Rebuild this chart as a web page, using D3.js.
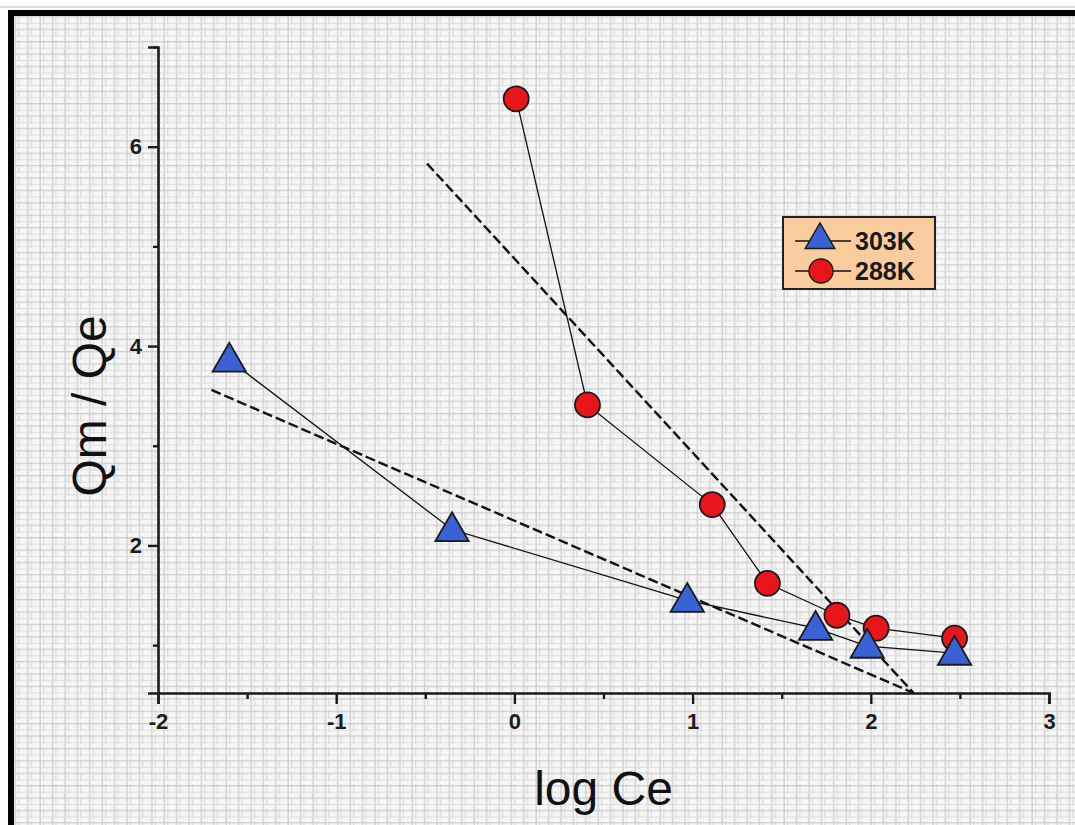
<!DOCTYPE html>
<html>
<head>
<meta charset="utf-8">
<script src="https://cdn.jsdelivr.net/npm/d3@7"></script>
<style>
  html, body { margin: 0; padding: 0; background: #fff; }
  svg { display: block; }
</style>
</head>
<body>
<script>
// Freundlich-type plot: Qm/Qe against log Ce at two temperatures
const logCe303 = [-1.60, -0.35, 0.97, 1.69, 1.98, 2.47];
const ratio303 = [3.86, 2.16, 1.45, 1.17, 0.99, 0.92];
const logCe288 = [0.01, 0.41, 1.11, 1.42, 1.81, 2.03, 2.47];
const ratio288 = [6.48, 3.41, 2.41, 1.62, 1.30, 1.17, 1.07];

// Linear fits (start/end of each dashed line)
const fit303X = [-1.70, 2.24];
const fit303Y = [3.56, 0.52];
const fit288X = [-0.49, 2.24];
const fit288Y = [5.83, 0.52];

const seriesNames = ["303K", "288K"];
const xTicks = [-2, -1, 0, 1, 2, 3];
const xMinorTicks = [-1.5, -0.5, 0.5, 1.5, 2.5];
const yTicks = [2, 4, 6];
const yMinorTicks = [1, 3, 5, 7];
const xTitle = "log Ce";
const yTitle = "Qm / Qe";

const W = 1075, H = 825;
const svg = d3.select("body").append("svg").attr("width", W).attr("height", H);

// graph-paper background
const defs = svg.append("defs");
const P = 12.4;
const pat = defs.append("pattern").attr("id", "paper")
  .attr("patternUnits", "userSpaceOnUse").attr("width", P).attr("height", P);
pat.append("rect").attr("width", P).attr("height", P).attr("fill", "#f6f6f6");
pat.append("line").attr("x1", 0).attr("x2", P).attr("y1", 4.5).attr("y2", 4.5)
  .attr("stroke", "#c9c9c9").attr("stroke-width", 1.1);
pat.append("line").attr("x1", 3).attr("x2", 3).attr("y1", 0).attr("y2", P)
  .attr("stroke", "#c4c4c4").attr("stroke-width", 1.0);
pat.append("line").attr("x1", 6.5).attr("x2", 6.5).attr("y1", 3).attr("y2", P)
  .attr("stroke", "#d0d0d0").attr("stroke-width", 0.9);
pat.append("line").attr("x1", 0).attr("x2", P).attr("y1", 11).attr("y2", 11)
  .attr("stroke", "#dadada").attr("stroke-width", 0.8);

svg.append("rect").attr("x", 0).attr("y", 0).attr("width", W).attr("height", H).attr("fill", "#fdfdfd");
svg.append("rect").attr("x", 13).attr("y", 15).attr("width", W - 13).attr("height", H - 15).attr("fill", "url(#paper)");
svg.append("line").attr("x1", 0).attr("x2", W).attr("y1", 7).attr("y2", 7).attr("stroke", "#bbb").attr("stroke-width", 1);
// frame bars
svg.append("rect").attr("x", 8).attr("y", 10).attr("width", W - 8).attr("height", 6).attr("fill", "#000");
svg.append("rect").attr("x", 8).attr("y", 10).attr("width", 6).attr("height", H - 10).attr("fill", "#000");

const x = d3.scaleLinear().domain([-2, 3]).range([158, 1049]);
const y = d3.scaleLinear().domain([0.52, 7]).range([693, 47]);
const plainNum = d => String(d);

// axes
const xAxis = svg.append("g").attr("transform", `translate(0,${y(0.52)})`)
  .call(d3.axisBottom(x).tickValues(xTicks).tickSize(11).tickPadding(9).tickFormat(plainNum));
const xMinor = svg.append("g").attr("transform", `translate(0,${y(0.52)})`)
  .call(d3.axisBottom(x).tickValues(xMinorTicks).tickSize(6).tickFormat(""));
const yAxis = svg.append("g").attr("transform", `translate(${x(-2)},0)`)
  .call(d3.axisLeft(y).tickValues(yTicks).tickSize(10).tickPadding(6).tickFormat(plainNum));
const yMinor = svg.append("g").attr("transform", `translate(${x(-2)},0)`)
  .call(d3.axisLeft(y).tickValues(yMinorTicks).tickSize(5).tickFormat(""));

[xAxis, xMinor, yAxis, yMinor].forEach(g => {
  g.attr("font-size", null).attr("font-family", null);
  g.select(".domain").attr("stroke", "#1a1a1a").attr("stroke-width", 2.6);
  g.selectAll(".tick line").attr("stroke", "#1a1a1a").attr("stroke-width", 2.4);
  g.selectAll("text").attr("fill", "#1c1c1c")
    .attr("font-family", "'Liberation Sans', Arial, sans-serif")
    .attr("font-size", 22).attr("font-weight", "bold");
});
xMinor.select(".domain").remove();
yMinor.select(".domain").remove();

// axis titles
svg.append("text").attr("x", x(0.5)).attr("y", 805).attr("text-anchor", "middle")
  .attr("font-family", "'Liberation Sans', Arial, sans-serif").attr("font-size", 48)
  .attr("fill", "#111").text(xTitle);
svg.append("text").attr("transform", `translate(106,${y(3.4)}) rotate(-90)`).attr("text-anchor", "middle")
  .attr("font-family", "'Liberation Sans', Arial, sans-serif").attr("font-size", 48)
  .attr("fill", "#111").text(yTitle);

const pts303 = logCe303.map((v, i) => ({ x: v, y: ratio303[i] }));
const pts288 = logCe288.map((v, i) => ({ x: v, y: ratio288[i] }));
const fit303 = fit303X.map((v, i) => ({ x: v, y: fit303Y[i] }));
const fit288 = fit288X.map((v, i) => ({ x: v, y: fit288Y[i] }));

const line = d3.line().x(d => x(d.x)).y(d => y(d.y));

// dashed fit lines
[fit303, fit288].forEach(f => {
  svg.append("path").attr("d", line(f)).attr("fill", "none")
    .attr("stroke", "#111").attr("stroke-width", 2.4).attr("stroke-dasharray", "10,4");
});

// connecting lines
[pts288, pts303].forEach(p => {
  svg.append("path").attr("d", line(p)).attr("fill", "none")
    .attr("stroke", "#111").attr("stroke-width", 1.3);
});

const triSym = d3.symbol().type(d3.symbolTriangle).size(480);
const BLUE = "#3a62d6", RED = "#e8161b";

// circles (288K)
svg.append("g").selectAll("circle").data(pts288).join("circle")
  .attr("cx", d => x(d.x)).attr("cy", d => y(d.y)).attr("r", 12.5)
  .attr("fill", RED).attr("stroke", "#1a1a1a").attr("stroke-width", 1.8);

// triangles (303K)
svg.append("g").selectAll("path").data(pts303).join("path")
  .attr("transform", d => `translate(${x(d.x)},${y(d.y) + 2})`)
  .attr("d", triSym)
  .attr("fill", BLUE).attr("stroke", "#1a1a1a").attr("stroke-width", 1.8);

// legend
const lg = svg.append("g");
lg.append("rect").attr("x", 783).attr("y", 217).attr("width", 152).attr("height", 72)
  .attr("fill", "#f8cc9c").attr("stroke", "#222").attr("stroke-width", 2);
const legendRows = [
  { name: seriesNames[0], kind: "tri", cy: 241 },
  { name: seriesNames[1], kind: "circ", cy: 271 }
];
legendRows.forEach(r => {
  lg.append("line").attr("x1", 795).attr("x2", 851).attr("y1", r.cy).attr("y2", r.cy)
    .attr("stroke", "#111").attr("stroke-width", 1.6);
  if (r.kind === "tri") {
    lg.append("path").attr("transform", `translate(820,${r.cy - 1})`)
      .attr("d", d3.symbol().type(d3.symbolTriangle).size(380))
      .attr("fill", BLUE).attr("stroke", "#1a1a1a").attr("stroke-width", 1.4);
  } else {
    lg.append("circle").attr("cx", 821).attr("cy", r.cy).attr("r", 12)
      .attr("fill", RED).attr("stroke", "#1a1a1a").attr("stroke-width", 1.4);
  }
  lg.append("text").attr("x", 855).attr("y", r.cy + 9)
    .attr("font-family", "'Liberation Sans', Arial, sans-serif").attr("font-size", 25)
    .attr("font-weight", "bold").attr("fill", "#1a1a1a").text(r.name);
});
</script>
</body>
</html>
